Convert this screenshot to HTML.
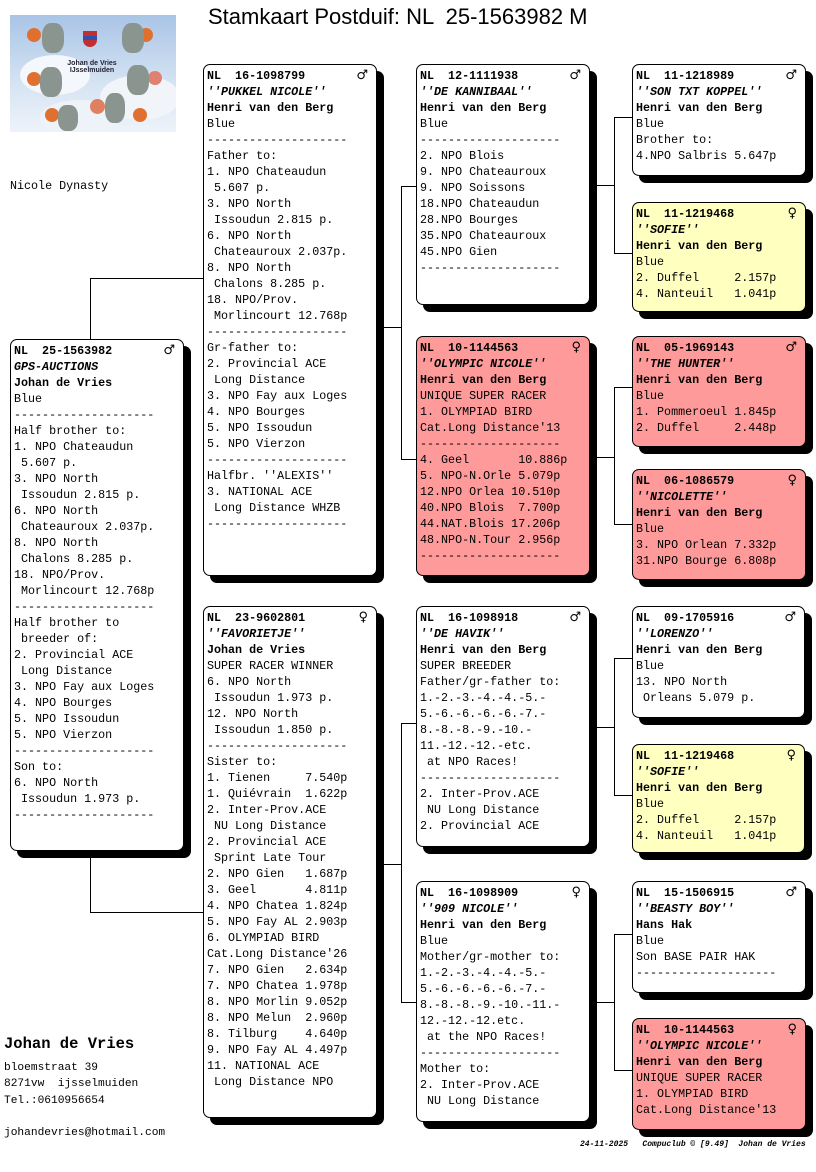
<!DOCTYPE html>
<html><head><meta charset="utf-8">
<style>
*{margin:0;padding:0;box-sizing:border-box}
body{width:816px;height:1172px;background:#fff;position:relative;overflow:hidden;font-family:"Liberation Mono","DejaVu Sans Mono",monospace;}
.b{position:absolute;border:1px solid #000;border-radius:7px;box-shadow:7px 7px 0 #000;background:#fff;}
.b pre{position:absolute;left:3px;top:3px;font-family:"Liberation Mono",monospace;font-size:11.7px;line-height:16px;color:#000;white-space:pre;}
.y{background:#ffffc0}.p{background:#ff9a9a}
.s{position:absolute;right:8px;top:3px;font-size:13px;font-weight:bold;line-height:16px;font-family:"DejaVu Sans",sans-serif}
b{font-weight:bold}i{font-style:italic;font-weight:bold}
.h{position:absolute;height:1px;background:#000}
.v{position:absolute;width:1px;background:#000}
.t{position:absolute;white-space:pre}
</style></head><body>
<div class="t" style="left:208px;top:4px;font-family:'Liberation Sans',Arial,sans-serif;font-size:22px;line-height:26px">Stamkaart Postduif: NL  25-1563982 M</div>

<div style="position:absolute;left:10px;top:15px;width:166px;height:117px;background:linear-gradient(180deg,#a9c4e6,#d6e4f3 60%,#eef3fa);overflow:hidden">
<div style="position:absolute;left:10px;top:40px;width:70px;height:40px;border-radius:50%;background:#f4f7fb"></div>
<div style="position:absolute;left:90px;top:60px;width:80px;height:45px;border-radius:50%;background:#f1f5fa"></div>
<div style="position:absolute;left:30px;top:85px;width:80px;height:35px;border-radius:50%;background:#eef3f9"></div>
<div style="position:absolute;left:17px;top:13px;width:14px;height:14px;border-radius:50%;background:#e07030"></div>
<div style="position:absolute;left:17px;top:57px;width:14px;height:14px;border-radius:50%;background:#e07030"></div>
<div style="position:absolute;left:35px;top:93px;width:14px;height:14px;border-radius:50%;background:#e07030"></div>
<div style="position:absolute;left:80px;top:84px;width:15px;height:15px;border-radius:50%;background:#e08060"></div>
<div style="position:absolute;left:123px;top:93px;width:14px;height:14px;border-radius:50%;background:#e07030"></div>
<div style="position:absolute;left:129px;top:13px;width:14px;height:14px;border-radius:50%;background:#e07030"></div>
<div style="position:absolute;left:138px;top:56px;width:14px;height:14px;border-radius:50%;background:#e08070"></div>
<div style="position:absolute;left:32px;top:8px;width:22px;height:30px;border-radius:40%;background:#8a9590"></div>
<div style="position:absolute;left:112px;top:8px;width:22px;height:30px;border-radius:40%;background:#8a9590"></div>
<div style="position:absolute;left:30px;top:52px;width:22px;height:30px;border-radius:40%;background:#8a9590"></div>
<div style="position:absolute;left:117px;top:50px;width:22px;height:30px;border-radius:40%;background:#8a9590"></div>
<div style="position:absolute;left:48px;top:90px;width:20px;height:26px;border-radius:40%;background:#8a9590"></div>
<div style="position:absolute;left:95px;top:78px;width:20px;height:30px;border-radius:40%;background:#8a9590"></div>
<div style="position:absolute;left:73px;top:16px;width:14px;height:16px;background:#c03030;border-radius:0 0 7px 7px"></div>
<div style="position:absolute;left:73px;top:21px;width:14px;height:4px;background:#3050b0"></div>
<div style="position:absolute;left:52px;top:45px;font:bold 7px 'Liberation Sans',sans-serif;color:#223;text-align:center;width:60px">Johan de Vries<br>IJsselmuiden</div>
</div>

<div class="t" style="left:10px;top:178px;font-size:11.7px;line-height:16px">Nicole Dynasty</div>

<!-- connectors -->
<div class="v" style="left:90px;top:278px;height:61px"></div>
<div class="h" style="left:90px;top:278px;width:113px"></div>
<div class="v" style="left:90px;top:851px;height:62px"></div>
<div class="h" style="left:90px;top:912px;width:113px"></div>

<div class="h" style="left:376px;top:327px;width:26px"></div>
<div class="v" style="left:401px;top:186px;height:274px"></div>
<div class="h" style="left:401px;top:186px;width:15px"></div>
<div class="h" style="left:401px;top:459px;width:15px"></div>

<div class="h" style="left:376px;top:864px;width:26px"></div>
<div class="v" style="left:401px;top:723px;height:280px"></div>
<div class="h" style="left:401px;top:723px;width:15px"></div>
<div class="h" style="left:401px;top:1002px;width:15px"></div>

<div class="h" style="left:590px;top:185px;width:25px"></div>
<div class="v" style="left:614px;top:117px;height:137px"></div>
<div class="h" style="left:614px;top:117px;width:18px"></div>
<div class="h" style="left:614px;top:253px;width:18px"></div>

<div class="h" style="left:590px;top:457px;width:25px"></div>
<div class="v" style="left:614px;top:387px;height:138px"></div>
<div class="h" style="left:614px;top:387px;width:18px"></div>
<div class="h" style="left:614px;top:524px;width:18px"></div>

<div class="h" style="left:590px;top:727px;width:25px"></div>
<div class="v" style="left:614px;top:658px;height:138px"></div>
<div class="h" style="left:614px;top:658px;width:18px"></div>
<div class="h" style="left:614px;top:795px;width:18px"></div>

<div class="h" style="left:590px;top:1002px;width:25px"></div>
<div class="v" style="left:614px;top:934px;height:137px"></div>
<div class="h" style="left:614px;top:934px;width:18px"></div>
<div class="h" style="left:614px;top:1070px;width:18px"></div>

<!-- subject -->
<div class="b" style="left:10px;top:339px;width:174px;height:512px"><pre><b>NL  25-1563982</b>
<i>GPS-AUCTIONS</i>
<b>Johan de Vries</b>
Blue
--------------------
Half brother to:
1. NPO Chateaudun
 5.607 p.
3. NPO North
 Issoudun 2.815 p.
6. NPO North
 Chateauroux 2.037p.
8. NPO North
 Chalons 8.285 p.
18. NPO/Prov.
 Morlincourt 12.768p
--------------------
Half brother to
 breeder of:
2. Provincial ACE
 Long Distance
3. NPO Fay aux Loges
4. NPO Bourges
5. NPO Issoudun
5. NPO Vierzon
--------------------
Son to:
6. NPO North
 Issoudun 1.973 p.
--------------------</pre><span class="s">♂</span></div>

<!-- col2 -->
<div class="b" style="left:203px;top:64px;width:174px;height:512px"><pre><b>NL  16-1098799</b>
<i>''PUKKEL NICOLE''</i>
<b>Henri van den Berg</b>
Blue
--------------------
Father to:
1. NPO Chateaudun
 5.607 p.
3. NPO North
 Issoudun 2.815 p.
6. NPO North
 Chateauroux 2.037p.
8. NPO North
 Chalons 8.285 p.
18. NPO/Prov.
 Morlincourt 12.768p
--------------------
Gr-father to:
2. Provincial ACE
 Long Distance
3. NPO Fay aux Loges
4. NPO Bourges
5. NPO Issoudun
5. NPO Vierzon
--------------------
Halfbr. ''ALEXIS''
3. NATIONAL ACE
 Long Distance WHZB
--------------------</pre><span class="s">♂</span></div>

<div class="b" style="left:203px;top:606px;width:174px;height:512px"><pre><b>NL  23-9602801</b>
<i>''FAVORIETJE''</i>
<b>Johan de Vries</b>
SUPER RACER WINNER
6. NPO North
 Issoudun 1.973 p.
12. NPO North
 Issoudun 1.850 p.
--------------------
Sister to:
1. Tienen     7.540p
1. Quiévrain  1.622p
2. Inter-Prov.ACE
 NU Long Distance
2. Provincial ACE
 Sprint Late Tour
2. NPO Gien   1.687p
3. Geel       4.811p
4. NPO Chatea 1.824p
5. NPO Fay AL 2.903p
6. OLYMPIAD BIRD
Cat.Long Distance'26
7. NPO Gien   2.634p
7. NPO Chatea 1.978p
8. NPO Morlin 9.052p
8. NPO Melun  2.960p
8. Tilburg    4.640p
9. NPO Fay AL 4.497p
11. NATIONAL ACE
 Long Distance NPO</pre><span class="s">♀</span></div>

<!-- col3 -->
<div class="b" style="left:416px;top:64px;width:174px;height:241px"><pre><b>NL  12-1111938</b>
<i>''DE KANNIBAAL''</i>
<b>Henri van den Berg</b>
Blue
--------------------
2. NPO Blois
9. NPO Chateauroux
9. NPO Soissons
18.NPO Chateaudun
28.NPO Bourges
35.NPO Chateauroux
45.NPO Gien
--------------------</pre><span class="s">♂</span></div>

<div class="b p" style="left:416px;top:336px;width:174px;height:240px"><pre><b>NL  10-1144563</b>
<i>''OLYMPIC NICOLE''</i>
<b>Henri van den Berg</b>
UNIQUE SUPER RACER
1. OLYMPIAD BIRD
Cat.Long Distance'13
--------------------
4. Geel       10.886p
5. NPO-N.Orle 5.079p
12.NPO Orlea 10.510p
40.NPO Blois  7.700p
44.NAT.Blois 17.206p
48.NPO-N.Tour 2.956p
--------------------</pre><span class="s">♀</span></div>

<div class="b" style="left:416px;top:606px;width:174px;height:241px"><pre><b>NL  16-1098918</b>
<i>''DE HAVIK''</i>
<b>Henri van den Berg</b>
SUPER BREEDER
Father/gr-father to:
1.-2.-3.-4.-4.-5.-
5.-6.-6.-6.-6.-7.-
8.-8.-8.-9.-10.-
11.-12.-12.-etc.
 at NPO Races!
--------------------
2. Inter-Prov.ACE
 NU Long Distance
2. Provincial ACE</pre><span class="s">♂</span></div>

<div class="b" style="left:416px;top:881px;width:174px;height:241px"><pre><b>NL  16-1098909</b>
<i>''909 NICOLE''</i>
<b>Henri van den Berg</b>
Blue
Mother/gr-mother to:
1.-2.-3.-4.-4.-5.-
5.-6.-6.-6.-6.-7.-
8.-8.-8.-9.-10.-11.-
12.-12.-12.etc.
 at the NPO Races!
--------------------
Mother to:
2. Inter-Prov.ACE
 NU Long Distance</pre><span class="s">♀</span></div>

<!-- col4 -->
<div class="b" style="left:632px;top:64px;width:174px;height:112px"><pre><b>NL  11-1218989</b>
<i>''SON TXT KOPPEL''</i>
<b>Henri van den Berg</b>
Blue
Brother to:
4.NPO Salbris 5.647p</pre><span class="s">♂</span></div>

<div class="b y" style="left:632px;top:202px;width:174px;height:110px"><pre><b>NL  11-1219468</b>
<i>''SOFIE''</i>
<b>Henri van den Berg</b>
Blue
2. Duffel     2.157p
4. Nanteuil   1.041p</pre><span class="s">♀</span></div>

<div class="b p" style="left:632px;top:336px;width:174px;height:111px"><pre><b>NL  05-1969143</b>
<i>''THE HUNTER''</i>
<b>Henri van den Berg</b>
Blue
1. Pommeroeul 1.845p
2. Duffel     2.448p</pre><span class="s">♂</span></div>

<div class="b p" style="left:632px;top:469px;width:174px;height:111px"><pre><b>NL  06-1086579</b>
<i>''NICOLETTE''</i>
<b>Henri van den Berg</b>
Blue
3. NPO Orlean 7.332p
31.NPO Bourge 6.808p</pre><span class="s">♀</span></div>

<div class="b" style="left:632px;top:606px;width:173px;height:112px"><pre><b>NL  09-1705916</b>
<i>''LORENZO''</i>
<b>Henri van den Berg</b>
Blue
13. NPO North
 Orleans 5.079 p.</pre><span class="s">♂</span></div>

<div class="b y" style="left:632px;top:744px;width:173px;height:109px"><pre><b>NL  11-1219468</b>
<i>''SOFIE''</i>
<b>Henri van den Berg</b>
Blue
2. Duffel     2.157p
4. Nanteuil   1.041p</pre><span class="s">♀</span></div>

<div class="b" style="left:632px;top:881px;width:174px;height:112px"><pre><b>NL  15-1506915</b>
<i>''BEASTY BOY''</i>
<b>Hans Hak</b>
Blue
Son BASE PAIR HAK
--------------------</pre><span class="s">♂</span></div>

<div class="b p" style="left:632px;top:1018px;width:174px;height:112px"><pre><b>NL  10-1144563</b>
<i>''OLYMPIC NICOLE''</i>
<b>Henri van den Berg</b>
UNIQUE SUPER RACER
1. OLYMPIAD BIRD
Cat.Long Distance'13</pre><span class="s">♀</span></div>

<!-- footer -->
<div class="t" style="left:4px;top:1034px;font-size:15.5px;font-weight:bold;line-height:20px">Johan de Vries</div>
<div class="t" style="left:4px;top:1060px;font-size:11.2px;line-height:16.3px">bloemstraat 39
8271vw  ijsselmuiden
Tel.:0610956654

johandevries@hotmail.com</div>
<div class="t" style="left:580px;top:1139px;font-size:8px;font-style:italic;font-weight:bold;line-height:11px">24-11-2025   Compuclub © [9.49]  Johan de Vries</div>
</body></html>
